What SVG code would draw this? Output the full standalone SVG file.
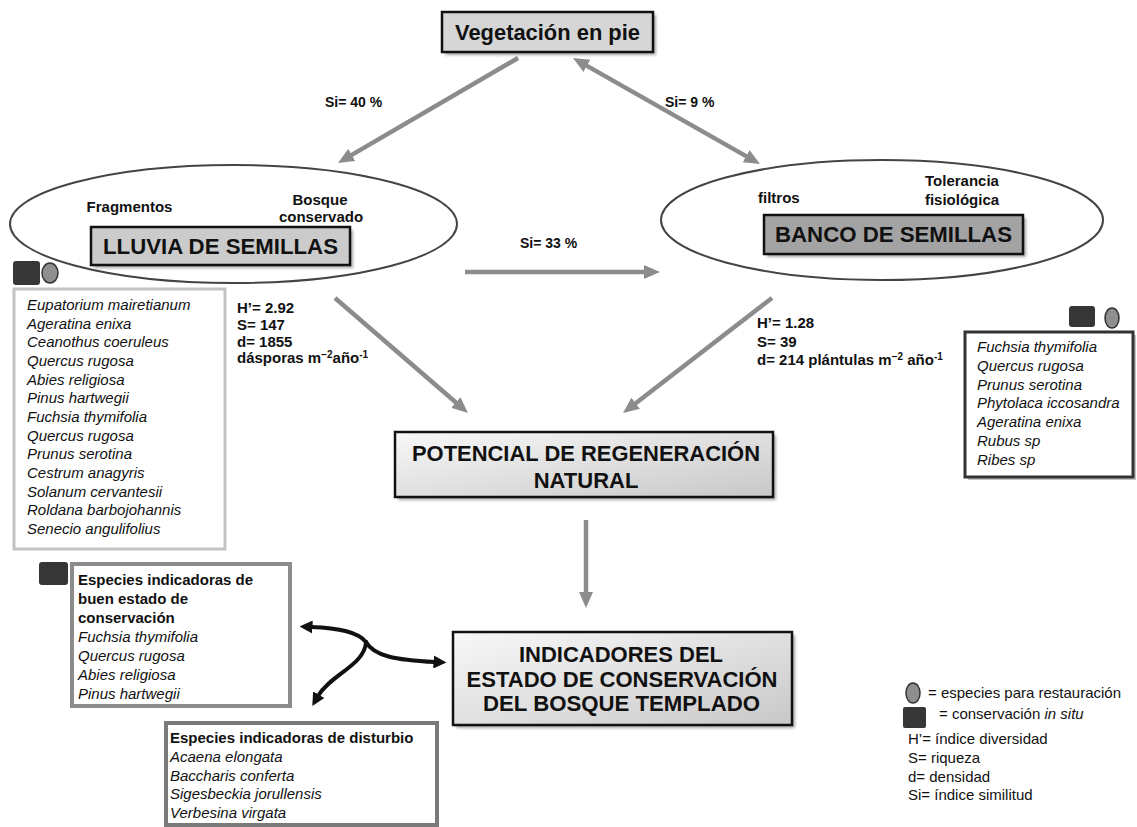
<svg xmlns="http://www.w3.org/2000/svg" width="1137" height="827" viewBox="0 0 1137 827">
<style>
text{font-family:"Liberation Sans",Arial,sans-serif;fill:#111}
.t{font-weight:bold;font-size:22px;text-anchor:middle}
.b{font-weight:bold;font-size:15px}
.s{font-weight:bold;font-size:14px}
.i{font-style:italic;font-size:15px}
.r{font-size:15px}
.box{stroke:#111;stroke-width:2.5}
.shadow{fill:#000;opacity:.35;filter:url(#blur)}
.ell{fill:none;stroke:#444;stroke-width:2}
.sq{fill:#363636}
.ci{fill:#8f8f8f;stroke:#333;stroke-width:1.5}
.ga{fill:none;stroke:#8c8c8c;stroke-width:4.5}
.ka{fill:none;stroke:#111;stroke-width:4;stroke-linecap:round}
</style>
<defs>
<filter id="blur" x="-10%" y="-10%" width="120%" height="130%"><feGaussianBlur stdDeviation="1.5"/></filter>
<linearGradient id="grad" x1="0" y1="0" x2="1" y2="1"><stop offset="0" stop-color="#f8f8f8"/><stop offset="1" stop-color="#c8c8c8"/></linearGradient>
<marker id="gh" markerUnits="userSpaceOnUse" markerWidth="16" markerHeight="14" refX="2" refY="7" orient="auto-start-reverse"><path d="M0,0 L16,7 L0,14 z" fill="#8c8c8c"/></marker>
<marker id="kh" markerUnits="userSpaceOnUse" markerWidth="13" markerHeight="13" refX="1.5" refY="6.5" orient="auto-start-reverse"><path d="M0,0 L13,6.5 L0,13 z" fill="#111"/></marker>
</defs>
<rect width="1137" height="827" fill="#fff"/>

<g id="connectors">
<line class="ga" x1="518" y1="58" x2="350.1" y2="155.9" marker-end="url(#gh)"/>
<line class="ga" x1="585.2" y1="64.9" x2="747.8" y2="157.1" marker-start="url(#gh)" marker-end="url(#gh)"/>
<line class="ga" x1="465" y1="272" x2="646" y2="272" marker-end="url(#gh)"/>
<line class="ga" x1="335" y1="298" x2="457.4" y2="403.8" marker-end="url(#gh)"/>
<line class="ga" x1="772" y1="298" x2="634.1" y2="404.5" marker-end="url(#gh)"/>
<line class="ga" x1="586" y1="520" x2="586" y2="594" marker-end="url(#gh)"/>
<path class="ka" d="M366,642 C358,632 340,628 311,627" marker-end="url(#kh)"/>
<path class="ka" d="M366,642 C374,656 395,660 435,662" marker-end="url(#kh)"/>
<path class="ka" d="M366,642 C365,665 330,675 318,696" marker-end="url(#kh)"/>
<text class="s" x="325" y="107">Si= 40 %</text>
<text class="s" x="665" y="107">Si= 9 %</text>
<text class="s" x="520" y="248">Si= 33 %</text>
</g>

<g id="vegetacion">
<rect class="shadow" x="445" y="15" width="211" height="40"/>
<rect class="box" x="442" y="12" width="211" height="40" fill="#d6d6d6"/>
<text class="t" x="547.5" y="40" textLength="185" lengthAdjust="spacingAndGlyphs">Vegetación en pie</text>
</g>

<g id="lluvia">
<ellipse class="ell" cx="233.5" cy="224" rx="223.5" ry="59"/>
<text class="b" x="129.5" y="212" text-anchor="middle">Fragmentos</text>
<text class="b" x="320" y="205" text-anchor="middle">Bosque</text>
<text class="b" x="321" y="222" text-anchor="middle">conservado</text>
<rect class="shadow" x="94" y="230" width="259" height="38"/>
<rect class="box" x="91" y="227" width="259" height="38" fill="#cbcbcb"/>
<text class="t" x="220.5" y="254" textLength="235" lengthAdjust="spacingAndGlyphs">LLUVIA DE SEMILLAS</text>
</g>

<g id="banco">
<ellipse class="ell" cx="882" cy="220" rx="221" ry="60"/>
<text class="b" x="758" y="203">filtros</text>
<text class="b" x="962" y="186" text-anchor="middle">Tolerancia</text>
<text class="b" x="962" y="205" text-anchor="middle">fisiológica</text>
<rect class="shadow" x="767" y="218" width="259" height="39"/>
<rect class="box" x="764" y="215" width="259" height="39" fill="#a3a3a3"/>
<text class="t" x="893.5" y="242" textLength="237" lengthAdjust="spacingAndGlyphs">BANCO DE SEMILLAS</text>
</g>

<g id="lluvia-especies">
<rect class="sq" x="13" y="261" width="27" height="24" rx="3"/>
<ellipse class="ci" cx="50" cy="273" rx="8" ry="10"/>
<rect x="14" y="289" width="211" height="260" fill="#fff" stroke="#c3c3c3" stroke-width="3"/>
<text class="i" x="27" y="310">Eupatorium  mairetianum</text>
<text class="i" x="27" y="328.7">Ageratina enixa</text>
<text class="i" x="27" y="347.3">Ceanothus  coeruleus</text>
<text class="i" x="27" y="366">Quercus rugosa</text>
<text class="i" x="27" y="384.7">Abies religiosa</text>
<text class="i" x="27" y="403.3">Pinus hartwegii</text>
<text class="i" x="27" y="422">Fuchsia thymifolia</text>
<text class="i" x="27" y="440.7">Quercus rugosa</text>
<text class="i" x="27" y="459.3">Prunus serotina</text>
<text class="i" x="27" y="478">Cestrum anagyris</text>
<text class="i" x="27" y="496.7">Solanum cervantesii</text>
<text class="i" x="27" y="515.3">Roldana barbojohannis</text>
<text class="i" x="27" y="534">Senecio angulifolius</text>
</g>

<g id="lluvia-stats">
<text class="b" x="237" y="313">H’= 2.92</text>
<text class="b" x="237" y="330">S= 147</text>
<text class="b" x="237" y="347">d= 1855</text>
<text class="b" x="237" y="363">dásporas  m<tspan dy="-5" font-size="10">−2</tspan><tspan dy="5">año</tspan><tspan dy="-5" font-size="10">-1</tspan></text>
</g>

<g id="banco-stats">
<text class="b" x="757" y="328">H’= 1.28</text>
<text class="b" x="757" y="347">S= 39</text>
<text class="b" x="757" y="365">d= 214 plántulas m<tspan dy="-5" font-size="10">−2</tspan><tspan dy="5"> año</tspan><tspan dy="-5" font-size="10">-1</tspan></text>
</g>

<g id="banco-especies">
<rect class="sq" x="1069" y="306" width="26" height="21" rx="3"/>
<ellipse class="ci" cx="1112" cy="318" rx="7" ry="10"/>
<rect x="968" y="335" width="168" height="145" fill="#888" opacity=".5"/>
<rect x="965" y="332" width="168" height="145" fill="#fff" stroke="#333" stroke-width="3"/>
<text class="i" x="977" y="352">Fuchsia thymifolia</text>
<text class="i" x="977" y="370.8">Quercus rugosa</text>
<text class="i" x="977" y="389.6">Prunus serotina</text>
<text class="i" x="977" y="408.4">Phytolaca iccosandra</text>
<text class="i" x="977" y="427.2">Ageratina enixa</text>
<text class="i" x="977" y="446">Rubus sp</text>
<text class="i" x="977" y="464.8">Ribes sp</text>
</g>

<g id="potencial">
<rect class="shadow" x="398" y="435" width="378" height="65"/>
<rect class="box" x="395" y="432" width="378" height="65" fill="url(#grad)"/>
<text class="t" x="586" y="461" textLength="348" lengthAdjust="spacingAndGlyphs">POTENCIAL DE REGENERACIÓN</text>
<text class="t" x="586" y="488">NATURAL</text>
</g>

<g id="indicadores">
<rect class="shadow" x="456" y="635" width="339" height="93"/>
<rect class="box" x="453" y="632" width="339" height="93" fill="url(#grad)"/>
<text class="t" x="621" y="662">INDICADORES DEL</text>
<text class="t" x="622" y="687" textLength="311" lengthAdjust="spacingAndGlyphs">ESTADO DE CONSERVACIÓN</text>
<text class="t" x="621.5" y="711" textLength="277" lengthAdjust="spacingAndGlyphs">DEL BOSQUE TEMPLADO</text>
</g>

<g id="buen-estado">
<rect class="sq" x="39" y="562" width="29" height="23" rx="3"/>
<rect x="72" y="564" width="218" height="142" fill="#fff" stroke="#8c8c8c" stroke-width="4"/>
<text class="b" x="78" y="585">Especies  indicadoras de</text>
<text class="b" x="78" y="604">buen estado de</text>
<text class="b" x="78" y="623">conservación</text>
<text class="i" x="78" y="642">Fuchsia thymifolia</text>
<text class="i" x="78" y="661">Quercus rugosa</text>
<text class="i" x="78" y="680">Abies religiosa</text>
<text class="i" x="78" y="699">Pinus hartwegii</text>
</g>

<g id="disturbio">
<rect x="166" y="723" width="271" height="102" fill="#fff" stroke="#7a7a7a" stroke-width="4"/>
<text class="b" x="170" y="743">Especies  indicadoras de disturbio</text>
<text class="i" x="170" y="762">Acaena elongata</text>
<text class="i" x="170" y="781">Baccharis conferta</text>
<text class="i" x="170" y="799">Sigesbeckia jorullensis</text>
<text class="i" x="170" y="818">Verbesina virgata</text>
</g>

<g id="leyenda">
<ellipse class="ci" cx="913" cy="693" rx="7" ry="10"/>
<text class="r" x="928" y="698">= especies  para restauración</text>
<rect class="sq" x="903" y="707" width="23" height="21" rx="2"/>
<text class="r" x="939" y="719">= conservación  <tspan font-style="italic">in situ</tspan></text>
<text class="r" x="908" y="744">H’=  índice diversidad</text>
<text class="r" x="908" y="763">S= riqueza</text>
<text class="r" x="908" y="782">d= densidad</text>
<text class="r" x="908" y="800">Si= índice similitud</text>
</g>
</svg>
